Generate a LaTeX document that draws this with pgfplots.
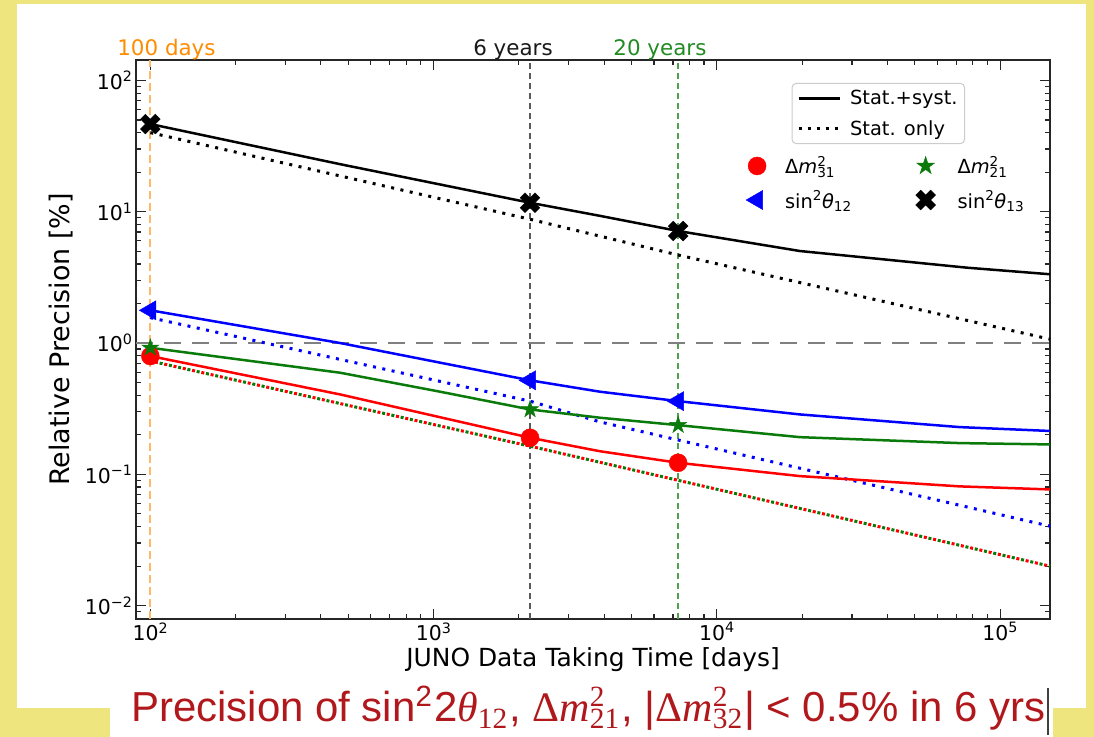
\documentclass[border=0pt]{standalone}
\usepackage{fontspec}
\setmainfont{DejaVu Sans}
\newfontfamily\capsans{Liberation Sans}
\newfontfamily\capserif{Liberation Serif}
\usepackage{graphicx}
\usepackage{pgfplots}
\pgfplotsset{compat=1.18}

\definecolor{bgyellow}{HTML}{EEE57E}
\definecolor{mplgreen}{HTML}{0A7A0A}
\definecolor{labgreen}{HTML}{228B22}
\definecolor{darkorange}{HTML}{FF8C00}
\definecolor{lineorange}{HTML}{FFB866}
\definecolor{capred}{HTML}{B0181C}

\newcommand\supsub[2]{\makebox[0pt][l]{\textsuperscript{#1}}\textsubscript{#2}}

\pgfdeclareplotmark{fstar}{%
  \pgfpathmoveto{\pgfpointpolar{90}{\pgfplotmarksize}}%
  \pgfpathlineto{\pgfpointpolar{126}{0.382\pgfplotmarksize}}%
  \pgfpathlineto{\pgfpointpolar{162}{\pgfplotmarksize}}%
  \pgfpathlineto{\pgfpointpolar{198}{0.382\pgfplotmarksize}}%
  \pgfpathlineto{\pgfpointpolar{234}{\pgfplotmarksize}}%
  \pgfpathlineto{\pgfpointpolar{270}{0.382\pgfplotmarksize}}%
  \pgfpathlineto{\pgfpointpolar{306}{\pgfplotmarksize}}%
  \pgfpathlineto{\pgfpointpolar{342}{0.382\pgfplotmarksize}}%
  \pgfpathlineto{\pgfpointpolar{18}{\pgfplotmarksize}}%
  \pgfpathlineto{\pgfpointpolar{54}{0.382\pgfplotmarksize}}%
  \pgfpathclose
  \pgfusepathqfillstroke}

\pgfdeclareplotmark{fX}{%
  \pgftransformrotate{45}%
  \pgfpathmoveto{\pgfpoint{0.33\pgfplotmarksize}{0.33\pgfplotmarksize}}%
  \pgfpathlineto{\pgfpoint{0.33\pgfplotmarksize}{\pgfplotmarksize}}%
  \pgfpathlineto{\pgfpoint{-0.33\pgfplotmarksize}{\pgfplotmarksize}}%
  \pgfpathlineto{\pgfpoint{-0.33\pgfplotmarksize}{0.33\pgfplotmarksize}}%
  \pgfpathlineto{\pgfpoint{-\pgfplotmarksize}{0.33\pgfplotmarksize}}%
  \pgfpathlineto{\pgfpoint{-\pgfplotmarksize}{-0.33\pgfplotmarksize}}%
  \pgfpathlineto{\pgfpoint{-0.33\pgfplotmarksize}{-0.33\pgfplotmarksize}}%
  \pgfpathlineto{\pgfpoint{-0.33\pgfplotmarksize}{-\pgfplotmarksize}}%
  \pgfpathlineto{\pgfpoint{0.33\pgfplotmarksize}{-\pgfplotmarksize}}%
  \pgfpathlineto{\pgfpoint{0.33\pgfplotmarksize}{-0.33\pgfplotmarksize}}%
  \pgfpathlineto{\pgfpoint{\pgfplotmarksize}{-0.33\pgfplotmarksize}}%
  \pgfpathlineto{\pgfpoint{\pgfplotmarksize}{0.33\pgfplotmarksize}}%
  \pgfpathclose
  \pgfusepathqfillstroke}

\pgfplotsset{
  solidc/.style={line width=2.5bp},
  dotc/.style={line width=3bp, dash pattern=on 3bp off 6.5bp},
}

\begin{document}
\begin{tikzpicture}[x=1bp,y=1bp]
\fill[bgyellow] (0,0) rectangle (1094,737);
\fill[white] (17,29) rectangle (1086,733);
\fill[white] (110,0) rectangle (1053,29);

\begin{axis}[
  at={(136bp,118bp)}, anchor=south west,
  scale only axis, width=914bp, height=559bp,
  xmode=log, ymode=log,
  xmin=89, xmax=1.5e5, ymin=0.00792, ymax=143,
  clip=false,
  axis line style={line width=1.5bp, black!85},
  tick align=inside, xtick pos=both, ytick pos=both,
  major tick length=10bp, minor tick length=5bp,
  every tick/.style={black!85, line width=1.2bp},
  xtick={100,1000,10000,100000},
  xticklabels={10\textsuperscript{2},10\textsuperscript{3},10\textsuperscript{4},10\textsuperscript{5}},
  minor xtick={200,300,400,500,600,700,800,900,2000,3000,4000,5000,6000,7000,8000,9000,20000,30000,40000,50000,60000,70000,80000,90000},
  ytick={0.01,0.1,1,10,100},
  yticklabels={10\textsuperscript{−2},10\textsuperscript{−1},10\textsuperscript{0},10\textsuperscript{1},10\textsuperscript{2}},
  minor ytick={0.008,0.009,0.02,0.03,0.04,0.05,0.06,0.07,0.08,0.09,0.2,0.3,0.4,0.5,0.6,0.7,0.8,0.9,2,3,4,5,6,7,8,9,20,30,40,50,60,70,80,90},
  tick label style={font=\fontsize{20.5}{24}\selectfont, black},
  xlabel={JUNO Data Taking Time [days]},
  ylabel={Relative Precision [\%]},
  xlabel style={font=\fontsize{25}{30}\selectfont},
  ylabel style={font=\fontsize{27}{32}\selectfont},
  ylabel shift=5bp,
  legend columns=2,
  legend style={draw=none, fill=none, font=\fontsize{19.5}{23}\selectfont,
    at={(0.664,0.835)}, anchor=north west,
    /tikz/every even column/.append style={column sep=62bp},
    row sep=11bp},
  legend cell align=left,
]
% reference lines
\addplot[forget plot, lineorange, line width=1.8bp, dash pattern=on 8bp off 4bp] coordinates {(100,0.00792) (100,143)};
\addplot[forget plot, black!65, line width=1.5bp, dash pattern=on 6bp off 4bp] coordinates {(2190,0.00792) (2190,143)};
\addplot[forget plot, labgreen!80, line width=1.5bp, dash pattern=on 6bp off 4bp] coordinates {(7300,0.00792) (7300,143)};
\addplot[forget plot, black!50, line width=2bp, dash pattern=on 17bp off 11bp] coordinates {(89,1) (1.5e5,1)};

% stat only (dotted)
\addplot[forget plot, black, dotc] coordinates {(100,40.0) (2190,8.76) (7300,4.68) (150000,1.07)};
\addplot[forget plot, blue, dotc] coordinates {(100,1.56) (2190,0.361) (3865,0.251) (150000,0.0403)};
\addplot[forget plot, mplgreen, dotc] coordinates {(100,0.73) (2190,0.164) (150000,0.020)};
\addplot[forget plot, red, dotc, dash phase=4.75bp] coordinates {(100,0.73) (2190,0.164) (150000,0.020)};

% stat + syst (solid)
\addplot[forget plot, black, solidc] coordinates {(100,46.5) (468,23.0) (2190,11.7) (3865,9.3) (7300,7.13) (19640,5.02) (76200,3.75) (150000,3.34)};
\addplot[forget plot, blue, solidc] coordinates {(100,1.775) (468,1.0) (2190,0.52) (3865,0.426) (7300,0.361) (19640,0.286) (72000,0.229) (150000,0.214)};
\addplot[forget plot, mplgreen, solidc] coordinates {(100,0.92) (468,0.594) (1054,0.426) (2190,0.312) (3865,0.27) (7300,0.237) (19640,0.192) (72000,0.173) (150000,0.169)};
\addplot[forget plot, red, solidc] coordinates {(100,0.796) (468,0.406) (2190,0.19) (3865,0.150) (7300,0.1225) (19640,0.097) (72000,0.081) (150000,0.0768)};

% markers
\addplot[forget plot, only marks, mark=*, red, mark size=9bp] coordinates {(100,0.796) (2190,0.19) (7300,0.1225)};
\addplot[forget plot, only marks, mark=fstar, mplgreen, mark size=9bp] coordinates {(100,0.92) (2190,0.312) (7300,0.237)};
\addplot[forget plot, only marks, mark=triangle*, mark options={rotate=90}, blue, mark size=11bp] coordinates {(100,1.775) (2190,0.52) (7300,0.361)};
\addplot[forget plot, only marks, mark=fX, black, mark size=10.5bp] coordinates {(100,46.5) (2190,11.7) (7300,7.13)};

% legend
\addlegendimage{only marks, mark=*, red, mark size=9bp}
\addlegendentry{\hspace{17bp}Δ\textit{m}\supsub{2}{31}}
\addlegendimage{only marks, mark=fstar, mplgreen, mark size=9.5bp}
\addlegendentry{\hspace{20bp}Δ\textit{m}\supsub{2}{21}}
\addlegendimage{only marks, mark=triangle*, mark options={rotate=90}, blue, mark size=11bp}
\addlegendentry{\hspace{17bp}sin\textsuperscript{2}\textit{θ}\textsubscript{12}}
\addlegendimage{only marks, mark=fX, black, mark size=10.5bp}
\addlegendentry{\hspace{20bp}sin\textsuperscript{2}\textit{θ}\textsubscript{13}}

% labels above
\node[anchor=base, text=darkorange, font=\fontsize{21.5}{25}\selectfont, yshift=4bp] at (axis cs:114,143) {100 days};
\node[anchor=base, text=black!90, font=\fontsize{21.5}{25}\selectfont, yshift=4bp] at (axis cs:1907,143) {6 years};
\node[anchor=base, text=labgreen, font=\fontsize{21.5}{25}\selectfont, yshift=4bp] at (axis cs:6296,143) {20 years};
\end{axis}

\begin{axis}[
  at={(136bp,118bp)}, anchor=south west,
  scale only axis, width=914bp, height=559bp,
  xmin=0, xmax=1, ymin=0, ymax=1, hide axis,
  legend style={draw=black!20, line width=1bp, rounded corners=4bp, fill=white,
    font=\fontsize{19.5}{23}\selectfont, inner sep=5bp,
    at={(0.907,0.959)}, anchor=north east, row sep=10bp},
  legend cell align=left,
  legend image code/.code={\draw[#1] (0bp,0bp) -- (41bp,0bp);},
]
\addlegendimage{black, line width=2.5bp}
\addlegendentry{\hspace{7bp}Stat.+syst.}
\addlegendimage{black, line width=3bp, dash pattern=on 3bp off 6bp}
\addlegendentry{\hspace{7bp}Stat. only}
\end{axis}

\node[anchor=base west, inner sep=0pt, text=capred] at (131,15)
  {\resizebox{914bp}{!}{\capsans Precision of sin\textsuperscript{2}2{\capserif\itshape θ}\textsubscript{\capserif 12}, {\capserif Δ\itshape m}\supsub{\capserif 2}{\capserif 21}, |{\capserif Δ\itshape m}\supsub{\capserif 2}{\capserif 32}| < 0.5\% in 6 yrs}};
\draw[black!75, line width=1.3bp] (1048,2) -- (1048,49);
\end{tikzpicture}
\end{document}
